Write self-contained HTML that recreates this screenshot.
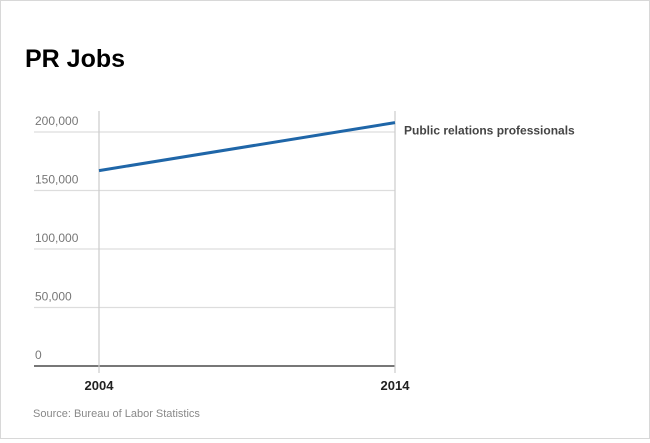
<!DOCTYPE html>
<html><head><meta charset="utf-8"><style>
body{margin:0;background:#fff;}
#wrap{position:relative;width:648px;height:437px;border:1px solid #d8d8d8;font-family:"Liberation Sans",sans-serif;}
</style></head><body>
<div id="wrap">
<svg width="648" height="437">
<text x="24" y="66" font-size="25" font-weight="bold" fill="#000">PR Jobs</text>
<g id="grid"></g>
<g id="series"></g>
<text x="32" y="416" font-size="11" fill="#888">Source: Bureau of Labor Statistics</text>
</svg>
</div>
<script>
const years=[2004,2014];
const jobs=[167000,208000];
const yTicks=[0,50000,100000,150000,200000];
const yTickLabels=["0","50,000","100,000","150,000","200,000"];
const seriesName="Public relations professionals";
const ns="http://www.w3.org/2000/svg";
const x0=98,x1=394,yBase=365,yPer=(365-131)/200000;
const X=v=>x0+(v-years[0])/(years[1]-years[0])*(x1-x0);
const Y=v=>yBase-v*yPer;
function mk(t,a,p){const e=document.createElementNS(ns,t);for(const k in a)e.setAttribute(k,a[k]);p.appendChild(e);return e;}
const g=document.getElementById('grid'),s=document.getElementById('series');
yTicks.forEach((v,i)=>{
 const l=mk('line',{x1:33,x2:x1,y1:Y(v),y2:Y(v),stroke:v===0?'#777':'#ddd','stroke-width':v===0?2:1.2},g);
 
 
 const t=mk('text',{x:34,y:Y(v)-7,'font-size':12,fill:'#777'},g);
 t.textContent=yTickLabels[i];
 
 
});
years.forEach(yr=>{
 const l=mk('line',{x1:X(yr),x2:X(yr),y1:110,y2:372,stroke:'#ccc','stroke-width':1.2},g);
 
 
 const t=mk('text',{x:X(yr),y:389,'font-size':13,'font-weight':'bold',fill:'#222','text-anchor':'middle'},g);
 t.textContent=yr;
 
 
});
const pts=years.map((yr,i)=>X(yr)+','+Y(jobs[i])).join(' ');
const pl=mk('polyline',{points:pts,fill:'none',stroke:'#1f66a8','stroke-width':3},s);


const lab=mk('text',{x:403,y:Y(jobs[1])+12,'font-size':12,'font-weight':'bold',fill:'#444'},s);
lab.textContent=seriesName;


</script>
</body></html>
